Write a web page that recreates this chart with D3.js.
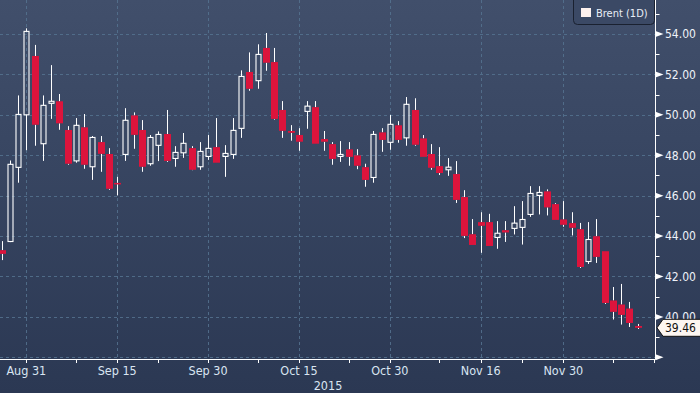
<!DOCTYPE html>
<html><head><meta charset="utf-8">
<script src="https://cdn.jsdelivr.net/npm/d3@7"></script>
<style>
html,body{margin:0;padding:0;background:#2c3a55;}
svg{display:block;}
text{font-family:"DejaVu Sans Condensed","DejaVu Sans",sans-serif;font-stretch:condensed;}
</style></head><body>
<svg id="c" width="700" height="393"></svg>
<script>
const dates = ["2015-08-26","2015-08-27","2015-08-28","2015-08-31","2015-09-01","2015-09-02","2015-09-03","2015-09-04","2015-09-07","2015-09-08","2015-09-09","2015-09-10","2015-09-11","2015-09-14","2015-09-15","2015-09-16","2015-09-17","2015-09-18","2015-09-21","2015-09-22","2015-09-23","2015-09-24","2015-09-25","2015-09-28","2015-09-29","2015-09-30","2015-10-01","2015-10-02","2015-10-05","2015-10-06","2015-10-07","2015-10-08","2015-10-09","2015-10-12","2015-10-13","2015-10-14","2015-10-15","2015-10-16","2015-10-19","2015-10-20","2015-10-21","2015-10-22","2015-10-23","2015-10-26","2015-10-27","2015-10-28","2015-10-29","2015-10-30","2015-11-02","2015-11-03","2015-11-04","2015-11-05","2015-11-06","2015-11-09","2015-11-10","2015-11-11","2015-11-12","2015-11-13","2015-11-16","2015-11-17","2015-11-18","2015-11-19","2015-11-20","2015-11-23","2015-11-24","2015-11-25","2015-11-26","2015-11-27","2015-11-30","2015-12-01","2015-12-02","2015-12-03","2015-12-04","2015-12-07","2015-12-08","2015-12-09","2015-12-10","2015-12-11"];
const open  = [43.30,43.73,47.40,50.00,52.91,48.57,50.57,50.67,49.25,47.72,49.38,47.43,48.65,48.06,46.63,48.04,49.97,49.25,47.58,48.49,49.05,47.84,48.12,48.35,47.43,47.94,48.40,47.94,48.04,49.33,52.12,51.69,53.31,52.61,50.24,49.20,49.00,50.17,50.38,48.80,48.55,47.94,48.29,47.99,47.41,46.90,49.13,48.64,49.48,48.86,50.24,48.83,48.06,47.46,47.28,47.07,45.93,44.09,44.69,44.69,43.93,44.29,44.38,44.43,45.07,46.01,46.21,45.58,44.82,44.64,44.34,42.74,43.99,43.25,40.81,40.61,40.41,39.55];
const high  = [43.75,47.74,50.96,54.28,53.46,50.96,52.46,51.03,49.44,49.84,50.04,48.95,48.95,48.35,46.93,50.33,50.12,49.74,49.00,49.18,50.24,48.45,49.10,48.45,48.65,49.00,49.84,48.50,49.84,52.20,53.09,53.49,54.05,53.31,50.68,49.49,49.34,50.68,50.68,49.20,48.65,48.70,48.65,48.30,47.58,49.20,49.34,49.99,49.69,50.88,50.82,49.00,48.55,48.40,47.86,47.71,46.27,44.84,45.18,45.10,44.74,44.74,45.48,45.73,46.47,46.47,46.31,45.63,45.73,45.18,44.65,44.69,44.84,43.25,41.48,41.63,40.74,39.65];
const low   = [42.81,43.70,46.64,48.25,48.47,47.72,49.80,49.26,47.53,47.63,47.33,46.78,47.18,46.29,46.01,47.72,48.32,47.18,47.48,47.71,47.67,47.43,47.87,47.26,47.28,47.77,47.63,46.93,47.82,48.86,51.19,51.29,52.18,49.76,48.86,48.72,48.22,49.31,48.57,48.22,47.53,47.67,47.48,47.31,46.44,46.64,48.17,48.27,48.62,48.47,48.47,47.92,47.28,47.02,46.98,45.64,43.90,43.56,43.17,43.51,43.37,43.71,44.08,43.58,44.95,45.07,45.02,44.80,44.46,44.03,42.42,42.62,42.67,40.64,39.87,39.62,39.50,39.40];
const close = [43.12,47.55,50.02,54.13,49.51,50.47,50.67,49.58,47.58,49.48,47.53,48.88,48.07,46.34,46.59,49.73,49.01,47.43,48.88,49.03,47.72,48.14,48.59,47.28,48.19,48.34,47.63,48.09,49.23,51.90,51.29,52.99,52.58,49.80,49.21,49.11,48.67,50.43,48.57,48.67,47.82,48.04,47.92,47.48,46.78,49.03,48.76,49.53,48.76,50.52,48.52,47.92,47.38,47.12,47.41,45.79,44.01,43.56,44.51,43.51,44.14,44.18,44.64,44.82,46.11,46.16,45.42,44.80,44.56,44.41,42.47,43.83,42.97,40.69,40.25,40.10,39.70,39.46];
const majorTicks = ["2015-08-31","2015-09-15","2015-09-30","2015-10-15","2015-10-30","2015-11-16","2015-11-30"];
const majorLabels = ["Aug 31","Sep 15","Sep 30","Oct 15","Oct 30","Nov 16","Nov 30"];
const minorTicks = ["2015-09-08","2015-09-22","2015-10-08","2015-10-23","2015-11-09","2015-11-23","2015-12-08","2015-12-15"];
const yMajor = [38,40,42,44,46,48,50,52,54];
const yMinor = [39,41,43,45,47,49,51,53,55];
const yearLabel = "2015";
const seriesName = "Brent (1D)";
const lastPrice = 39.46;

const parse = d3.timeParse("%Y-%m-%d");
const t0 = parse(dates[0]);
function wIndex(s){ // weekday index from first date
  const d = parse(s);
  return d3.timeDay.range(t0, d).filter(x => x.getDay()!==0 && x.getDay()!==6).length;
}
const svg = d3.select("#c");
const W=700,H=393, axisX=655.5, axisY=359;
const x = d3.scaleLinear().domain([-0.183, 79.01]).range([0, 654.3]);
const y = d3.scaleLinear().domain([38,54]).range([357.3, 34]);

const defs = svg.append("defs");
const g = defs.append("linearGradient").attr("id","bg").attr("x1",0).attr("y1",0).attr("x2",0).attr("y2",1);
g.append("stop").attr("offset","0%").attr("stop-color","#414f6b");
g.append("stop").attr("offset","35%").attr("stop-color","#394763");
g.append("stop").attr("offset","100%").attr("stop-color","#2b3853");
svg.append("rect").attr("width",W).attr("height",H).attr("fill","url(#bg)");
defs.append("clipPath").attr("id","plot").append("rect").attr("x",0).attr("y",0).attr("width",axisX).attr("height",axisY);

// grid
const grid = svg.append("g").attr("stroke","#557390").attr("stroke-dasharray","3,3").attr("stroke-width",1).attr("opacity",0.85);
yMajor.forEach(v=>{
  const yy=Math.round(y(v))+0.5;
  grid.append("line").attr("x1",0).attr("x2",axisX).attr("y1",yy).attr("y2",yy);
});
majorTicks.forEach(s=>{
  const xx=Math.round(x(wIndex(s)))+0.5;
  grid.append("line").attr("x1",xx).attr("x2",xx).attr("y1",0).attr("y2",axisY);
});

// candles
const data = dates.map((d,i)=>({i:wIndex(d),o:open[i],h:high[i],l:low[i],c:close[i]}));
const cg = svg.append("g").attr("clip-path","url(#plot)");
data.forEach(d=>{
  const cx = Math.round(x(d.i))+0.5;
  const up = d.c>=d.o;
  const top = y(Math.max(d.o,d.c)), bot = y(Math.min(d.o,d.c));
  cg.append("line").attr("x1",cx).attr("x2",cx).attr("y1",y(d.h)).attr("y2",top).attr("stroke","#fff").attr("stroke-width",1);
  cg.append("line").attr("x1",cx).attr("x2",cx).attr("y1",bot).attr("y2",y(d.l)).attr("stroke","#fff").attr("stroke-width",1);
  const hgt = Math.max(bot-top,1.5);
  if(up){
    cg.append("rect").attr("x",cx-2.5).attr("y",top).attr("width",5).attr("height",hgt)
      .attr("fill","none").attr("stroke","#fff").attr("stroke-width",1.1);
  } else {
    cg.append("rect").attr("x",cx-3.5).attr("y",top).attr("width",7).attr("height",hgt).attr("fill","#dc143c");
  }
});

// axes
const ax = svg.append("g");
ax.append("line").attr("x1",axisX).attr("x2",axisX).attr("y1",0).attr("y2",axisY+0.5).attr("stroke","#fff");
ax.append("line").attr("x1",0).attr("x2",axisX).attr("y1",axisY+0.5).attr("y2",axisY+0.5).attr("stroke","#fff");
majorTicks.concat(minorTicks).forEach(s=>{
  const xx=Math.round(x(wIndex(s)))+0.5;
  ax.append("line").attr("x1",xx).attr("x2",xx).attr("y1",axisY).attr("y2",axisY+4).attr("stroke","#fff");
});
majorTicks.forEach((s,k)=>{
  ax.append("text").attr("x",x(wIndex(s))).attr("y",375).attr("text-anchor","middle")
    .attr("fill","#d9e5f2").attr("font-size","12.5px").text(majorLabels[k]);
});
ax.append("text").attr("x",328).attr("y",390).attr("text-anchor","middle").attr("fill","#d9e5f2").attr("font-size","12.5px").text(yearLabel);
yMinor.forEach(v=>{
  const yy=Math.round(y(v))+0.5;
  ax.append("line").attr("x1",axisX).attr("x2",axisX+4).attr("y1",yy).attr("y2",yy).attr("stroke","#fff");
});
yMajor.forEach(v=>{
  const yy=y(v);
  ax.append("path").attr("d",`M${axisX},${yy-3}L${axisX+8},${yy}L${axisX},${yy+3}Z`).attr("fill","#fff");
  if(v>38) ax.append("text").attr("x",665).attr("y",yy+4.3).attr("fill","#eef2f8").attr("font-size","12px").text(v.toFixed(2));
});

// last price label
const ly = y(lastPrice);
svg.append("path").attr("d",`M657,${ly}L663,${ly-8.5}L701,${ly-8.5}L701,${ly+8.5}L663,${ly+8.5}Z`)
  .attr("fill","#fdf6f1").attr("stroke","#111").attr("stroke-width",1);
svg.append("text").attr("x",665).attr("y",ly+4.3).attr("fill","#111").attr("font-size","12px").text(lastPrice.toFixed(2));

// legend
const lg = svg.append("g");
lg.append("rect").attr("x",573.5).attr("y",-4).attr("width",81).attr("height",28.5).attr("rx",4)
  .attr("fill","#3b4965").attr("stroke","#1a2130").attr("stroke-width",1);
lg.append("rect").attr("x",581).attr("y",8).attr("width",10).attr("height",9).attr("fill","#fdf1ee");
lg.append("text").attr("x",596).attr("y",17).attr("fill","#e8eef6").attr("font-size","11px").text(seriesName);
</script></body></html>
